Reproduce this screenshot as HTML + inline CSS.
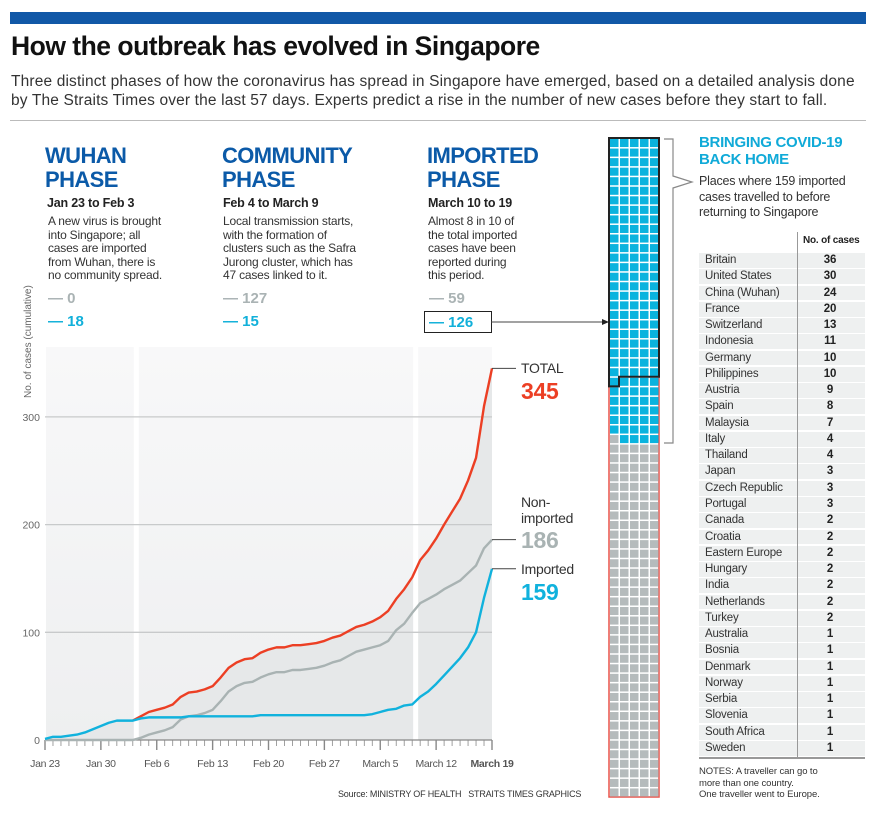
<!DOCTYPE html>
<html><head><meta charset="utf-8">
<style>
body{margin:0;width:871px;height:821px;background:#fff;position:relative;overflow:hidden;font-family:"Liberation Sans",sans-serif;color:#222}
.a{position:absolute;margin:0}
.ph{font-weight:bold;color:#0b5aa8;font-size:22px;line-height:24px;letter-spacing:-0.6px}
.pd{font-weight:bold;font-size:12.5px;color:#222;letter-spacing:-0.2px}
.pt{font-size:12px;line-height:13.6px;color:#333;white-space:nowrap;letter-spacing:-0.2px}
.lg{font-weight:bold;font-size:15px}
</style></head><body>
<div class="a" style="left:10px;top:12px;width:856px;height:12px;background:#1158a7"></div>
<h1 class="a" style="left:11px;top:31px;font-size:26.5px;font-weight:bold;color:#111;letter-spacing:-0.5px">How the outbreak has evolved in Singapore</h1>
<p class="a" style="left:11px;top:72px;font-size:15.5px;line-height:19px;color:#333;white-space:nowrap;letter-spacing:0.15px">Three distinct phases of how the coronavirus has spread in Singapore have emerged, based on a detailed analysis done<br>by The Straits Times over the last 57 days. Experts predict a rise in the number of new cases before they start to fall.</p>
<div class="a" style="left:10px;top:120px;width:856px;height:1px;background:#bbb"></div>

<div class="a ph" style="left:45px;top:144px">WUHAN<br>PHASE</div>
<div class="a pd" style="left:47px;top:196px">Jan 23 to Feb 3</div>
<div class="a pt" style="left:48px;top:215px">A new virus is brought<br>into Singapore; all<br>cases are imported<br>from Wuhan, there is<br>no community spread.</div>
<div class="a lg" style="left:48px;top:290px;color:#aab3b4">— 0</div>
<div class="a lg" style="left:48px;top:313px;color:#11b0da">— 18</div>

<div class="a ph" style="left:222px;top:144px">COMMUNITY<br>PHASE</div>
<div class="a pd" style="left:223px;top:196px">Feb 4 to March 9</div>
<div class="a pt" style="left:223px;top:215px">Local transmission starts,<br>with the formation of<br>clusters such as the Safra<br>Jurong cluster, which has<br>47 cases linked to it.</div>
<div class="a lg" style="left:223px;top:290px;color:#aab3b4">— 127</div>
<div class="a lg" style="left:223px;top:313px;color:#11b0da">— 15</div>

<div class="a ph" style="left:427px;top:144px">IMPORTED<br>PHASE</div>
<div class="a pd" style="left:428px;top:196px">March 10 to 19</div>
<div class="a pt" style="left:428px;top:215px">Almost 8 in 10 of<br>the total imported<br>cases have been<br>reported during<br>this period.</div>
<div class="a lg" style="left:429px;top:290px;color:#aab3b4">— 59</div>
<div class="a lg" style="left:424px;top:311px;width:62px;height:20px;border:1.5px solid #222;color:#11b0da;padding-left:4px;line-height:21px">— 126</div>

<svg class="a" id="chart" style="left:0;top:0" width="871" height="821"></svg>

<div class="a" style="left:699px;top:134px;font-size:15px;line-height:17px;font-weight:bold;color:#10aad8;letter-spacing:-0.3px">BRINGING COVID-19<br>BACK HOME</div>
<div class="a" style="left:699px;top:174px;font-size:12.5px;line-height:15.5px;color:#333;letter-spacing:-0.2px">Places where 159 imported<br>cases travelled to before<br>returning to Singapore</div>
<div class="a" style="left:803px;top:235px;font-size:10px;font-weight:bold;letter-spacing:-0.2px">No. of cases</div>
<div class="a" id="tbl" style="left:699px;top:253px;width:166px"></div>
<div class="a" style="left:797px;top:232px;width:1px;height:525px;background:#999"></div>
<div class="a" style="left:699px;top:766px;font-size:9.5px;line-height:11.5px;color:#333;letter-spacing:-0.1px">NOTES: A traveller can go to<br>more than one country.<br>One traveller went to Europe.</div>
<div class="a" style="left:338px;top:789px;font-size:9px;color:#333;letter-spacing:-0.2px">Source: MINISTRY OF HEALTH &nbsp; STRAITS TIMES GRAPHICS</div>

<script>
const dateLabels = ["Jan 23","Jan 30","Feb 6","Feb 13","Feb 20","Feb 27","March 5","March 12","March 19"];
const yTicks = [0,100,200,300];
const imported = [1,3,3,4,5,7,10,13,16,18,18,18,20,21,21,21,21,21,22,22,22,22,22,22,22,22,22,23,23,23,23,23,23,23,23,23,23,23,23,23,23,24,26,28,29,32,33,40,45,52,60,68,76,86,100,132,159];
const nonImported = [0,0,0,0,0,0,0,0,0,0,0,0,2,5,7,9,12,19,22,23,25,28,36,45,50,53,54,58,61,63,63,65,65,66,67,69,72,74,78,82,84,86,88,92,102,108,118,127,131,135,140,144,148,155,162,178,186];
const countries = ["Britain","United States","China (Wuhan)","France","Switzerland","Indonesia","Germany","Philippines","Austria","Spain","Malaysia","Italy","Thailand","Japan","Czech Republic","Portugal","Canada","Croatia","Eastern Europe","Hungary","India","Netherlands","Turkey","Australia","Bosnia","Denmark","Norway","Serbia","Slovenia","South Africa","Sweden"];
const caseCounts = [36,30,24,20,13,11,10,10,9,8,7,4,4,3,3,3,2,2,2,2,2,2,2,1,1,1,1,1,1,1,1];
const phaseImportedLast = 126;

const NS="http://www.w3.org/2000/svg";
const svg=document.getElementById('chart');
const X0=45,X1=492,Y0=740,YPER=1.077;
const nDays=imported.length;
const xs=i=>X0+(X1-X0)*i/(nDays-1);
const ys=v=>Y0-v*YPER;
const total=imported.map((v,i)=>v+nonImported[i]);
function el(t,a,p){const e=document.createElementNS(NS,t);for(const k in a)e.setAttribute(k,a[k]);(p||svg).appendChild(e);return e;}

const defs=el('defs',{});
const g=el('linearGradient',{id:'bg',x1:0,y1:0,x2:0,y2:1},defs);
el('stop',{offset:0,'stop-color':'#f8f8f9'},g);el('stop',{offset:1,'stop-color':'#eeeff0'},g);
let r=el('rect',{x:46,y:347,width:X1-46,height:Y0-347,fill:'url(#bg)'});

let ad='M'+xs(0)+','+Y0+' '+total.map((v,i)=>'L'+xs(i)+','+ys(v)).join(' ')+' L'+xs(nDays-1)+','+Y0+'Z';
let ar=el('path',{d:ad,fill:'#e6e8e9'});

[11.5,46.5].forEach(d=>{let s=el('rect',{x:xs(d)-3,y:347,width:5,height:Y0-347,fill:'#fff'});
});
yTicks.forEach(v=>{
 if(v>0){let l=el('line',{x1:X0,x2:X1,y1:ys(v),y2:ys(v),stroke:'#c8cacb','stroke-width':1.3});
 }
 let t=el('text',{x:40,y:ys(v)+4,'text-anchor':'end','font-size':10.5,fill:'#666'});t.textContent=v;
 
});
let yt=el('text',{x:0,y:0,transform:'translate(31,398) rotate(-90)','font-size':10,fill:'#666'});
yt.textContent='No. of cases (cumulative)';

let ax=el('line',{x1:X0,x2:X1,y1:Y0,y2:Y0,stroke:'#888','stroke-width':1.2});

for(let i=0;i<nDays;i++){let maj=i%7==0;
 let tk=el('line',{x1:xs(i),x2:xs(i),y1:Y0,y2:Y0+(maj?10:6),stroke:'#888','stroke-width':maj?1.4:0.8});
 }
dateLabels.forEach((d,k)=>{let t=el('text',{x:xs(k*7),y:767,'text-anchor':'middle','font-size':10.5,fill:'#555','font-weight':k==8?'bold':'normal','letter-spacing':'-0.3'});
 t.textContent=d;});
function line(arr,col,name,start){let pts=[];for(let i=start;i<nDays;i++)pts.push(xs(i)+','+ys(arr[i]));
 let p=el('polyline',{points:pts.join(' '),fill:'none',stroke:col,'stroke-width':2.4,'stroke-linejoin':'round'});
 }
line(nonImported,'#a9b3b3','non-imported-line',0);
line(total,'#ec3f24','total-line',11);
line(imported,'#11b2dd','imported-line',0);
function lab(txt,x,y,sz,col,w,name){let t=el('text',{x:x,y:y,'font-size':sz,fill:col,'font-weight':w,'letter-spacing':'-0.3'});t.textContent=txt;
 }
const last=nDays-1;
[total[last],nonImported[last],imported[last]].forEach(v=>{
 let l=el('line',{x1:X1,x2:X1+24,y1:ys(v),y2:ys(v),stroke:'#444','stroke-width':1});
 });
lab('TOTAL',521,373,14,'#333','normal','total-label');
lab(total[last],521,399,23,'#ec3f24','bold','total-value');
lab('Non-',521,507,14,'#333','normal','nonimported-label');
lab('imported',521,523,14,'#333','normal','nonimported-label-2');
lab(nonImported[last],521,548,23,'#a9b3b3','bold','nonimported-value');
lab('Imported',521,574,14,'#333','normal','imported-label');
lab(imported[last],521,600,23,'#11b2dd','bold','imported-value');
let c=el('line',{x1:491,x2:604,y1:322,y2:322,stroke:'#444','stroke-width':1});

let ah=el('path',{d:'M609,322 L602,319 L602,325Z',fill:'#222'});


const WX=609,WY=138,CW=10,CH=659/69,cols=5;
const totalCases=total[last],impCases=imported[last];
const rows=Math.ceil(totalCases/cols);
let wb=el('rect',{x:WX,y:WY,width:CW*cols,height:CH*rows,fill:'#fff',stroke:'#e8534a','stroke-width':1.5});

const fullImpRows=Math.floor(impCases/cols),rem=impCases%cols;
for(let k=0;k<totalCases;k++){
 const rr=Math.floor(k/cols),cc=k%cols;
 let blue = rr<fullImpRows || (rr==fullImpRows && cc>=cols-rem);
 let cell=el('rect',{x:WX+cc*CW+1,y:WY+rr*CH+1,width:CW-1.5,height:CH-1.5,fill:blue?'#0ab3de':'#b5bbbc'});
 
}
const pr=Math.floor(phaseImportedLast/cols),pc=phaseImportedLast%cols;
const x2=WX+CW*cols,yb=WY+pr*CH;
let od='M'+WX+','+WY+' L'+x2+','+WY+' L'+x2+','+yb+' L'+(WX+pc*CW)+','+yb+' L'+(WX+pc*CW)+','+(yb+CH)+' L'+WX+','+(yb+CH)+'Z';
let op=el('path',{d:od,fill:'none',stroke:'#222','stroke-width':2});

let br=el('path',{d:'M664,139 L673,139 L673,176 L692,182 L673,188 L673,443 L664,443',fill:'none',stroke:'#888','stroke-width':1.2});


const tbl=document.getElementById('tbl');
countries.forEach((n,i)=>{
 const row=document.createElement('div');
 
 
 row.style.cssText='height:14.8px;margin-bottom:1.47px;background:#eef0f0;position:relative;font-size:11.5px;line-height:15px;color:#333;letter-spacing:-0.2px';
 row.innerHTML='<span style="position:absolute;left:6px">'+n+'</span><span style="position:absolute;left:98px;width:66px;text-align:center;font-weight:bold;color:#222">'+caseCounts[i]+'</span>';
 tbl.appendChild(row);
});
const bl=document.createElement('div');


bl.style.cssText='height:2px;background:#999';
tbl.appendChild(bl);
</script>
</body></html>
